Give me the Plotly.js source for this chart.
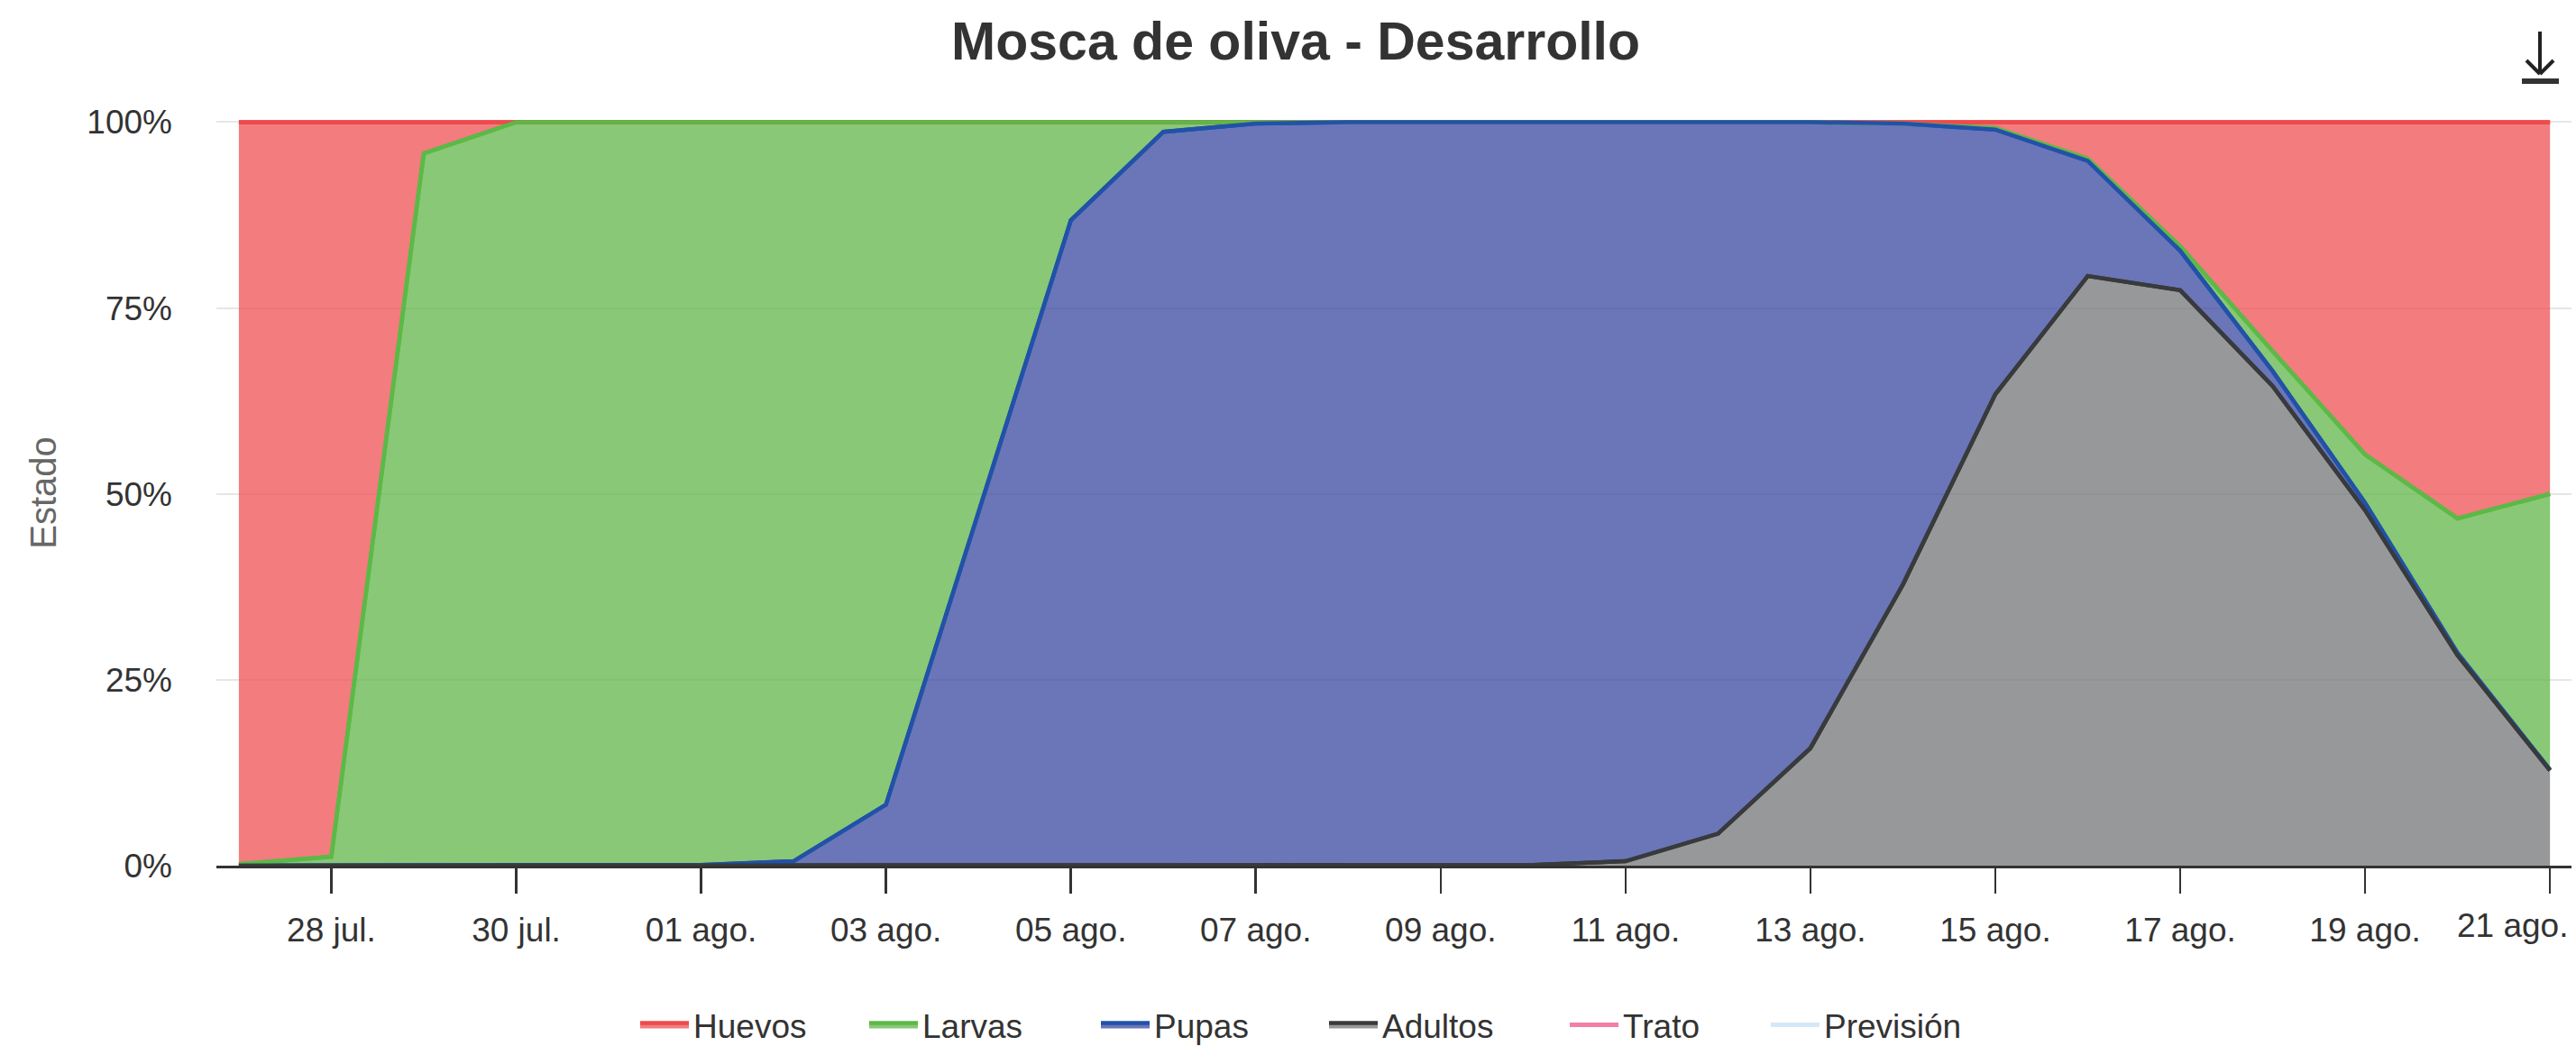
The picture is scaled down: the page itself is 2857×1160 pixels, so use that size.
<!DOCTYPE html>
<html>
<head>
<meta charset="utf-8">
<script src="https://cdn.plot.ly/plotly-3.0.1.min.js"></script>
<style>
  html, body { margin: 0; padding: 0; background: #ffffff; }
  #chart { width: 2857px; height: 1160px; }
</style>
</head>
<body>
<div id="chart"></div>
<script>
// ---- Data (percent of population in each stage per day) ----
const dates = [
  '2023-07-27','2023-07-28','2023-07-29','2023-07-30','2023-07-31',
  '2023-08-01','2023-08-02','2023-08-03','2023-08-04','2023-08-05',
  '2023-08-06','2023-08-07','2023-08-08','2023-08-09','2023-08-10',
  '2023-08-11','2023-08-12','2023-08-13','2023-08-14','2023-08-15',
  '2023-08-16','2023-08-17','2023-08-18','2023-08-19','2023-08-20',
  '2023-08-21'
];
const huevos  = [99.8, 98.8, 4.2, 0, 0, 0, 0, 0, 0, 0, 0, 0, 0, 0, 0, 0, 0, 0, 0.2, 0.8, 4.9, 16.7, 30.8, 44.7, 53.3, 50.0];
const larvas  = [0.2, 1.2, 95.8, 100, 100, 99.9, 99.4, 91.8, 52.5, 13.2, 1.3, 0.2, 0, 0, 0, 0, 0, 0, 0, 0.2, 0.3, 0.6, 2.7, 6.5, 18.1, 37.1];
const pupas   = [0, 0, 0, 0, 0, 0.1, 0.6, 8.2, 47.5, 86.8, 98.7, 99.8, 100, 100, 99.9, 99.4, 95.7, 84.2, 62.0, 35.6, 15.5, 5.3, 2.0, 1.0, 0.3, 0.1];
const adultos = [0, 0, 0, 0, 0, 0, 0, 0, 0, 0, 0, 0, 0, 0, 0.1, 0.6, 4.3, 15.8, 37.8, 63.4, 79.3, 77.4, 64.5, 47.8, 28.3, 12.8];

const tickDates  = ['2023-07-28','2023-07-30','2023-08-01','2023-08-03','2023-08-05','2023-08-07',
                    '2023-08-09','2023-08-11','2023-08-13','2023-08-15','2023-08-17','2023-08-19','2023-08-21'];
const tickLabels = ['28 jul.','30 jul.','01 ago.','03 ago.','05 ago.','07 ago.',
                    '09 ago.','11 ago.','13 ago.','15 ago.','17 ago.','19 ago.','21 ago.'];
const yTicks = [0, 25, 50, 75, 100];
const yTickLabels = ['0%', '25%', '50%', '75%', '100%'];

// ---- Styles ----
const FONT = '"Liberation Sans", Arial, Helvetica, sans-serif';
const C = {
  huevos:  {line: '#ee4a4d', fill: 'rgba(238,80,83,0.75)'},
  larvas:  {line: '#5cb947', fill: 'rgba(96,182,72,0.75)'},
  pupas:   {line: '#2152a8', fill: 'rgba(56,72,160,0.75)'},
  adultos: {line: '#383a3c', fill: 'rgba(116,118,120,0.75)'},
  trato: '#f47fa6',
  prevision: '#d4e8f8'
};
const LW = 4.5;

// cumulative tops (outlines drawn in the same order as the original)
const cumA = adultos.map(v => v);
const cumP = pupas.map((v, i) => cumA[i] + v);
const cumL = larvas.map((v, i) => cumP[i] + v);
const cumH = huevos.map((v, i) => cumL[i] + v);

const traces = [];
function area(name, y, c, rank, lw) {
  return {
    type: 'scatter', mode: 'lines', name: name, x: dates, y: y,
    stackgroup: 'one', groupnorm: 'percent',
    line: {color: c.line, width: LW}, fillcolor: c.fill,
    legendrank: rank, legendwidth: lw, hoverinfo: 'skip'
  };
}
traces.push(area('Adultos', adultos, C.adultos, 4, 198));
traces.push(area('Pupas', pupas, C.pupas, 3, 184));
traces.push(area('Larvas', larvas, C.larvas, 2, 188));
traces.push(area('Huevos', huevos, C.huevos, 1, 185));

[[cumH, C.huevos.line], [cumL, C.larvas.line], [cumP, C.pupas.line], [cumA, C.adultos.line]].forEach(function(p) {
  traces.push({type: 'scatter', mode: 'lines', x: dates, y: p[0], showlegend: false,
    line: {color: p[1], width: LW}, hoverinfo: 'skip'});
});

traces.push({type: 'scatter', mode: 'lines', name: 'Trato', x: [null], y: [null],
  line: {color: C.trato, width: 5}, legendrank: 5, legendwidth: 154});
traces.push({type: 'scatter', mode: 'lines', name: 'Previsión', x: [null], y: [null],
  line: {color: C.prevision, width: 5}, legendrank: 6, legendwidth: 170});

function pxShape(extra) {
  return Object.assign({xref: 'paper', yref: 'paper', xsizemode: 'pixel', ysizemode: 'pixel',
    xanchor: 1, yanchor: 1}, extra);
}

const nT = tickLabels.length;
const layout = {
  width: 2857, height: 1160,
  margin: {l: 240, r: 5, t: 133, b: 200, pad: 0},
  paper_bgcolor: '#ffffff', plot_bgcolor: '#ffffff',
  font: {family: FONT, color: '#333333', size: 37},
  title: {
    text: 'Mosca de oliva - Desarrollo',
    font: {family: FONT, size: 59, color: '#333333', weight: 'bold'},
    x: 0.503, xref: 'container', xanchor: 'center',
    y: 1 - 45 / 1160, yref: 'container', yanchor: 'middle'
  },
  xaxis: {
    type: 'date',
    range: ['2023-07-26 18:10', '2023-08-21 05:35'],
    tickvals: tickDates,
    // last label is placed as an annotation (shifted left to stay inside the chart)
    ticktext: tickLabels.slice(0, nT - 1).concat(['']),
    ticks: 'outside', ticklen: 28, tickwidth: 2.5, tickcolor: '#333333',
    ticklabelstandoff: 9,
    showline: true, linecolor: '#333333', linewidth: 3,
    showgrid: false, zeroline: false,
    tickfont: {family: FONT, size: 37, color: '#333333'},
    fixedrange: true
  },
  yaxis: {
    range: [0, 100.3],
    tickvals: yTicks, ticktext: yTickLabels,
    showgrid: true, gridcolor: '#e6e6e6', gridwidth: 2,
    zeroline: false, showline: false, ticks: '',
    ticklabelstandoff: 48,
    tickfont: {family: FONT, size: 37, color: '#333333'},
    title: {text: 'Estado', font: {family: FONT, size: 40, color: '#666666'}, standoff: 21},
    fixedrange: true
  },
  showlegend: true,
  legend: {
    orientation: 'h', traceorder: 'normal', xref: 'container', yref: 'container',
    x: 705 / 2857, xanchor: 'left', y: 1 - 1137 / 1160, yanchor: 'middle',
    entrywidthmode: 'pixels', itemwidth: 54,
    font: {family: FONT, size: 37, color: '#333333'},
    bgcolor: 'rgba(0,0,0,0)', borderwidth: 0
  },
  annotations: [{
    text: tickLabels[nT - 1], xref: 'paper', yref: 'paper', x: 1, y: 0,
    xanchor: 'right', yanchor: 'top', xshift: -2, yshift: -44, showarrow: false,
    font: {family: FONT, size: 37, color: '#333333'}
  }],
  shapes: [
    pxShape({type: 'line', x0: -35, x1: -35, y0: 98, y1: 52, line: {color: '#222222', width: 4}}),
    pxShape({type: 'line', x0: -50, x1: -35, y0: 66, y1: 51, line: {color: '#222222', width: 4}}),
    pxShape({type: 'line', x0: -20, x1: -35, y0: 66, y1: 51, line: {color: '#222222', width: 4}}),
    pxShape({type: 'rect', x0: -55, x1: -14, y0: 46, y1: 40, fillcolor: '#333333', line: {width: 0}})
  ]
};

Plotly.newPlot('chart', traces, layout, {displayModeBar: false, staticPlot: true});
</script>
</body>
</html>
